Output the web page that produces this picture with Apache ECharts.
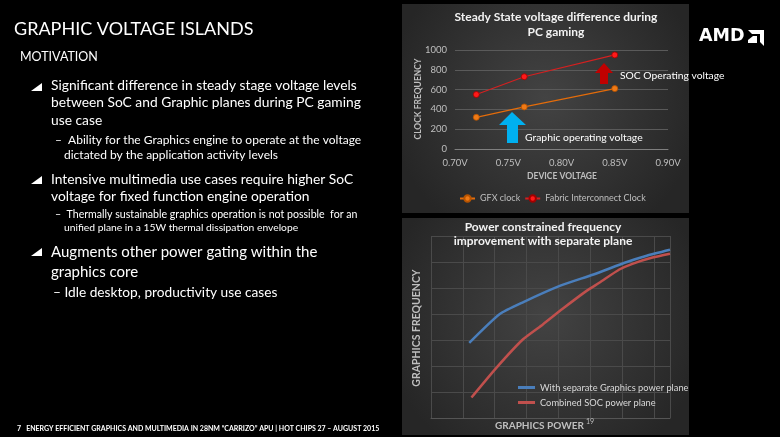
<!DOCTYPE html>
<html><head><meta charset="utf-8">
<script src="https://cdn.jsdelivr.net/npm/echarts@6/dist/echarts.min.js"></script>
<style>html,body{margin:0;padding:0;background:#000;}#c{width:780px;height:437px;}</style>
</head><body><div id="c"></div>
<script>
// ---- Top chart data ----
const voltages = [0.72, 0.765, 0.85];
const gfxClock = [320, 425, 610];
const fabricClock = [550, 730, 950];
const voltageTicks = [0.70, 0.75, 0.80, 0.85, 0.90];
const clockTicks = [0, 200, 400, 600, 800, 1000];
// ---- Bottom chart data (relative units, axes unlabeled) ----
const sepPower = [1.2, 2.16, 2.9, 4.06, 5.10, 6.15, 6.77, 7.5];
const sepFreq  = [2.89, 4.0, 4.46, 5.09, 5.52, 6.0, 6.24, 6.47];
const combPower = [1.27, 2.05, 2.88, 3.51, 4.13, 4.87, 5.28, 5.91, 6.32, 6.95, 7.5];
const combFreq  = [0.79, 1.93, 3.02, 3.60, 4.20, 4.88, 5.2, 5.71, 5.93, 6.17, 6.32];

const F = 'Lato, "Open Sans", sans-serif';
const zip = (a, b) => a.map((v, i) => [v, b[i]]);
const panelFill = {type:'radial', x:0.5, y:0.45, r:0.75, colorStops:[{offset:0,color:'#434343'},{offset:1,color:'#262626'}]};
const W = '#ffffff';

function txt(x, y, s, size, opts, rot) {
  const g = {type:'text', x:x, y:y, z:10, style:Object.assign({text:s, fill:W, font:'normal '+size+'px '+F, textVerticalAlign:'middle'}, (opts||{}))};
  if (rot) g.rotation = rot;
  return g;
}
function tri(x, y) {
  return {type:'polygon', z:10, shape:{points:[[x,y+8],[x+11,y+8],[x+11,y]]}, style:{fill:'#fff'}};
}
const B1 = 13.8, B3 = 15;
const graphics = [
  {type:'rect', z:0, shape:{x:402,y:4,width:287,height:209}, style:{fill:panelFill}},
  {type:'rect', z:0, shape:{x:402,y:218,width:287,height:217}, style:{fill:panelFill}},
  // slide text
  txt(14, 29, 'GRAPHIC VOLTAGE ISLANDS', 18),
  txt(20, 57, 'MOTIVATION', 12.5),
  tri(31, 83),
  txt(51, 86, 'Significant difference in steady stage voltage levels', B1),
  txt(51, 103, 'between SoC and Graphic planes during PC gaming', B1),
  txt(51, 121, 'use case', B1),
  txt(55, 140, '–  Ability for the Graphics engine to operate at the voltage', 12),
  txt(64, 155, 'dictated by the application activity levels', 12),
  tri(31, 176),
  txt(51, 180, 'Intensive multimedia use cases require higher SoC', B1),
  txt(51, 197, 'voltage for fixed function engine operation', B1),
  txt(55, 215, '–  Thermally sustainable graphics operation is not possible  for an', 10.6),
  txt(64, 228, 'unified plane in a 15W thermal dissipation envelope', 10.3),
  tri(31, 248),
  txt(51, 252, 'Augments other power gating within the', B3),
  txt(51, 272, 'graphics core', B3),
  txt(53, 293, '– Idle desktop, productivity use cases', 13.7),
  txt(17, 429, '7   ENERGY EFFICIENT GRAPHICS AND MULTIMEDIA IN 28NM “CARRIZO” APU | HOT CHIPS 27 – AUGUST 2015', 7, {font:'bold 7px '+F}),
  // AMD logo
  txt(699, 36, 'AMD', 17.5, {font:'bold 17.5px "DejaVu Sans", sans-serif'}),
  {type:'polygon', z:10, shape:{points:[[748,30],[764,30],[764,46],[760,42],[760,34],[752,34]]}, style:{fill:'#fff'}},
  {type:'polygon', z:10, shape:{points:[[748,40],[753,36],[757,36],[757,43],[748,43]]}, style:{fill:'#fff'}},
  // top chart title & annotations
  txt(556, 17, 'Steady State voltage difference during', 12, {font:'bold 12px '+F, textAlign:'center', fill:'#f2f2f2'}),
  txt(556, 32, 'PC gaming', 12, {font:'bold 12px '+F, textAlign:'center', fill:'#f2f2f2'}),
  txt(418, 99, 'CLOCK FREQUENCY', 8.5, {font:'bold 8.5px '+F, textAlign:'center', fill:'#bfbfbf'}, Math.PI/2),
  txt(562, 176, 'DEVICE VOLTAGE', 8.5, {font:'bold 8.5px '+F, textAlign:'center', fill:'#bfbfbf'}),
  {type:'polygon', z:10, shape:{points:[[604,63],[613,73],[608,73],[608,84],[600,84],[600,73],[595,73]]}, style:{fill:'#c00000'}},
  {type:'polygon', z:10, shape:{points:[[512,112],[526,125],[518,125],[518,143],[507,143],[507,125],[499,125]]}, style:{fill:'#00b0f0'}},
  txt(620, 76, 'SOC Operating voltage', 10.3),
  txt(525, 138, 'Graphic operating voltage', 10.4),
  // bottom chart title & axes names
  txt(543, 227, 'Power constrained frequency', 12, {font:'bold 12px '+F, textAlign:'center', fill:'#f2f2f2'}),
  txt(543, 241, 'improvement with separate plane', 12, {font:'bold 12px '+F, textAlign:'center', fill:'#f2f2f2'}),
  txt(495, 426, 'GRAPHICS POWER', 10, {font:'bold 10px '+F, fill:'#bfbfbf'}),
  txt(586, 422, '19', 7, {font:'normal 7px '+F, fill:'#bfbfbf'}),
  txt(417, 328, 'GRAPHICS FREQUENCY', 10.5, {font:'bold 10.5px '+F, textAlign:'center', fill:'#bfbfbf'}, Math.PI/2),
];

const chart = echarts.init(document.getElementById('c'), null, {renderer:'canvas'});
const gridLine = {show:true, lineStyle:{color:'#5a5a5a', width:1}};
chart.setOption({
  backgroundColor:'#000',
  animation:false,
  graphic: graphics,
  grid:[
    {left:455, top:50, width:213, height:99},
    {left:431, top:236, width:239, height:182}
  ],
  xAxis:[
    {gridIndex:0, type:'value', min:0.70, max:0.90, interval:0.05,
     axisLine:{show:true, lineStyle:{color:'#7f7f7f'}}, axisTick:{show:false},
     splitLine:{show:false},
     axisLabel:{color:'#bfbfbf', fontFamily:F, fontSize:9.5, margin:9, formatter: v => { const t = voltageTicks.find(x => Math.abs(x - v) < 1e-6); return (t !== undefined ? t : v).toFixed(2) + 'V'; }}},
    {gridIndex:1, type:'value', min:0, max:7.5, interval:1,
     axisLine:{show:true, lineStyle:{color:'#555'}}, axisTick:{show:false}, axisLabel:{show:false},
     splitLine:{show:true, lineStyle:{color:'#4a4a4a'}}}
  ],
  yAxis:[
    {gridIndex:0, type:'value', min:clockTicks[0], max:clockTicks[clockTicks.length-1], interval:200,
     axisLine:{show:false}, axisTick:{show:false}, splitLine:gridLine,
     axisLabel:{color:'#bfbfbf', fontFamily:F, fontSize:9.5, margin:8, formatter: v => String(v)}},
    {gridIndex:1, type:'value', min:0, max:7, interval:1,
     axisLine:{show:false}, axisTick:{show:false}, axisLabel:{show:false},
     splitLine:{show:true, lineStyle:{color:'#4a4a4a'}}}
  ],
  legend:[
    {left:454, top:189, itemGap:4, itemWidth:15, itemHeight:8,
     textStyle:{color:'#bfbfbf', fontFamily:F, fontSize:9},
     data:['GFX clock','Fabric Interconnect Clock']},
    {left:513, top:378, orient:'vertical', itemGap:6, itemWidth:17, itemHeight:3,
     textStyle:{color:'#d9d9d9', fontFamily:F, fontSize:9.3},
     data:[{name:'With separate Graphics power plane', icon:'rect'},{name:'Combined SOC power plane', icon:'rect'}]}
  ],
  series:[
    {name:'GFX clock', type:'line', xAxisIndex:0, yAxisIndex:0, data:zip(voltages, gfxClock),
     symbol:'circle', symbolSize:6, lineStyle:{color:'#e46c0a', width:1.2},
     itemStyle:{color:'#f07a16', borderColor:'#b65300', borderWidth:0.8}, z:5},
    {name:'Fabric Interconnect Clock', type:'line', xAxisIndex:0, yAxisIndex:0, data:zip(voltages, fabricClock),
     symbol:'circle', symbolSize:6, lineStyle:{color:'#d42020', width:1.2},
     itemStyle:{color:'#ff1a1a', borderColor:'#a00000', borderWidth:0.8}, z:5},
    {name:'With separate Graphics power plane', type:'line', xAxisIndex:1, yAxisIndex:1, data:zip(sepPower, sepFreq),
     symbol:'none', smooth:0.2, lineStyle:{color:'#4a7ebb', width:2.5}, itemStyle:{color:'#4a7ebb'}},
    {name:'Combined SOC power plane', type:'line', xAxisIndex:1, yAxisIndex:1, data:zip(combPower, combFreq),
     symbol:'none', smooth:0.2, lineStyle:{color:'#c0504d', width:2.5}, itemStyle:{color:'#c0504d'}}
  ]
});
</script></body></html>
